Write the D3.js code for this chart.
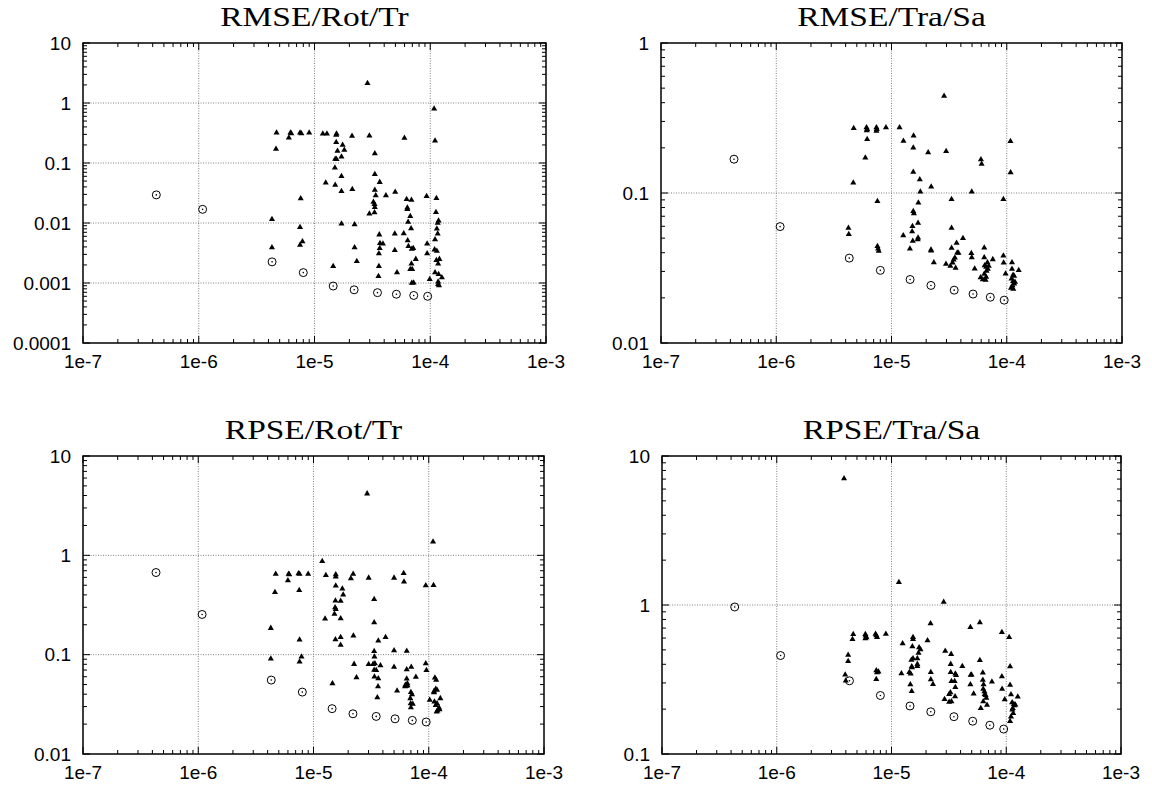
<!DOCTYPE html>
<html>
<head>
<meta charset="utf-8">
<script src="https://cdn.jsdelivr.net/npm/d3@7"></script>
<style>
  body { margin: 0; background: #fff; }
</style>
</head>
<body>
<div id="chart"></div>
<script>
// Tick labels
const xTicks = ["1e-7", "1e-6", "1e-5", "1e-4", "1e-3"];
const rmseRotTrTicks = ["0.0001", "0.001", "0.01", "0.1", "1", "10"];
const rmseTraSaTicks = ["0.01", "0.1", "1"];
const rpseRotTrTicks = ["0.01", "0.1", "1", "10"];
const rpseTraSaTicks = ["0.1", "1", "10"];

// x of the circle series (same in all four plots)
const circleX = [4.3e-7, 1.08e-6, 4.3e-6, 8.0e-6, 1.45e-5, 2.2e-5, 3.5e-5, 5.1e-5, 7.2e-5, 9.5e-5];

// circle series, y values
const rmseRotTrCircles = [0.0294, 0.0169, 0.00225, 0.00149, 0.00089, 0.00077, 0.00069, 0.00065, 0.00062, 0.0006];
const rmseTraSaCircles = [0.168, 0.0597, 0.0368, 0.0305, 0.0265, 0.0242, 0.0225, 0.0212, 0.0202, 0.0193];
const rpseRotTrCircles = [0.671, 0.254, 0.0555, 0.042, 0.0286, 0.0254, 0.0239, 0.0226, 0.0218, 0.021];
const rpseTraSaCircles = [0.97, 0.458, 0.31, 0.247, 0.21, 0.192, 0.178, 0.166, 0.156, 0.147];

// triangle series, [x, y]
const rmseRotTrTriangles = [
  [2.87e-5,2.14],[1.08e-4,0.8],[1.1e-4,0.235],[4.7e-6,0.32],[6.0e-6,0.264],[6.2e-6,0.32],[6.3e-6,0.31],
  [7.5e-6,0.32],[7.7e-6,0.31],[9.0e-6,0.32],[1.18e-5,0.308],[1.28e-5,0.308],[1.55e-5,0.308],[1.54e-5,0.293],
  [2.11e-5,0.282],[2.98e-5,0.285],[5.98e-5,0.261],[4.65e-6,0.171],[1.54e-5,0.221],[1.75e-5,0.199],
  [1.58e-5,0.158],[1.51e-5,0.117],[1.55e-5,0.115],[1.81e-5,0.164],[1.71e-5,0.127],[3.32e-5,0.144],
  [1.5e-5,0.083],[1.71e-5,0.06],[3.32e-5,0.065],[1.25e-5,0.047],[3.66e-5,0.048],[1.51e-5,0.043],
  [2.12e-5,0.0366],[1.71e-5,0.0338],[3.32e-5,0.0356],[4.14e-5,0.0286],[4.98e-5,0.033],[3.38e-5,0.0286],
  [6.25e-5,0.0249],[6.88e-5,0.0242],[9.3e-5,0.0279],[1.13e-4,0.0258],[7.6e-6,0.0255],[3.23e-5,0.0224],
  [3.3e-5,0.0205],[3.32e-5,0.0183],[2.98e-5,0.0143],[3.3e-5,0.0149],[6.34e-5,0.0169],[6.34e-5,0.018],
  [4.29e-6,0.0115],[1.12e-4,0.0151],[1.18e-4,0.0109],[6.44e-5,0.0104],[1.71e-5,0.0097],[2.22e-5,0.0094],
  [6.72e-5,0.0129],[1.16e-4,0.00998],[7.5e-6,0.0085],[6.83e-5,0.0081],[1.14e-4,0.008],[1.16e-4,0.0066],
  [4.94e-5,0.0066],[5.9e-5,0.0067],[3.63e-5,0.0064],[1.1e-4,0.0053],[7.87e-6,0.0049],[7.5e-6,0.0043],
  [3.9e-5,0.0045],[3.68e-5,0.0046],[6.38e-5,0.0051],[6.48e-5,0.0041],[9.4e-5,0.0045],[4.29e-6,0.0039],
  [2.22e-5,0.0039],[4.94e-5,0.0035],[3.66e-5,0.0038],[1.09e-4,0.0036],[1.14e-4,0.0034],[7.13e-5,0.0038],
  [3.6e-5,0.0031],[6.93e-5,0.0037],[9.4e-5,0.0031],[7.5e-5,0.0025],[1.2e-4,0.0025],[1.13e-4,0.0024],
  [2.32e-5,0.0023],[6.88e-5,0.0021],[6.98e-5,0.0017],[6.72e-5,0.0017],[1.17e-4,0.0021],[1.45e-5,0.0019],
  [3.6e-5,0.0019],[1.1e-4,0.0015],[5.16e-5,0.0015],[1.18e-4,0.0014],[3.57e-5,0.0013],[9.9e-5,0.00115],
  [1.26e-4,0.00123],[6.93e-5,0.001],[7.18e-5,0.00101],[1.17e-4,0.00105],[1.19e-4,0.00091],[1.17e-4,0.00095]
];
const rmseTraSaTriangles = [
  [2.86e-5,0.444],[4.7e-6,0.27],[6.07e-6,0.273],[6.15e-6,0.266],[6.1e-6,0.261],[7.4e-6,0.273],[7.45e-6,0.266],
  [7.4e-6,0.259],[8.95e-6,0.273],[1.175e-5,0.273],[1.555e-5,0.241],[6.15e-6,0.228],[1.27e-5,0.222],
  [1.545e-5,0.2],[2.08e-5,0.186],[2.98e-5,0.19],[1.077e-4,0.221],[5.93e-6,0.172],[5.97e-5,0.167],
  [6.05e-5,0.156],[1.545e-5,0.138],[1.76e-5,0.123],[1.08e-4,0.137],[4.66e-6,0.117],[2.21e-5,0.11],
  [1.78e-5,0.102],[4.97e-5,0.102],[3.32e-5,0.091],[9.35e-5,0.091],[7.55e-6,0.088],[1.71e-5,0.086],
  [1.545e-5,0.0755],[1.565e-5,0.073],[1.7e-5,0.063],[3.32e-5,0.0585],[1.52e-5,0.06],[1.51e-5,0.0553],
  [1.7e-5,0.0504],[1.69e-5,0.049],[1.265e-5,0.052],[4.17e-5,0.0499],[3.67e-5,0.0464],[3.72e-5,0.04],
  [3.32e-5,0.043],[6.38e-5,0.0432],[2.2e-5,0.0419],[2.21e-5,0.0412],[1.445e-5,0.0425],[1.53e-5,0.0479],
  [4.23e-6,0.0585],[4.26e-6,0.0531],[7.55e-6,0.0441],[7.65e-6,0.0425],[7.75e-6,0.041],[4.93e-5,0.0396],
  [4.97e-5,0.0371],[6.38e-5,0.0372],[6.8e-5,0.0344],[7.57e-5,0.0361],[9.35e-5,0.0382],[9.4e-5,0.0343],
  [1.11e-4,0.0344],[3.81e-5,0.0398],[3.55e-5,0.037],[3.46e-5,0.0359],[3.39e-5,0.0343],[3.6e-5,0.0316],
  [3.24e-5,0.0326],[2.33e-5,0.0344],[2.97e-5,0.0336],[5.27e-5,0.0313],[6.43e-5,0.0329],[6.63e-5,0.0321],
  [6.98e-5,0.0326],[6.85e-5,0.0311],[6.68e-5,0.0302],[6.38e-5,0.0288],[6.63e-5,0.0275],[5.93e-5,0.0273],
  [6.2e-5,0.0265],[6.55e-5,0.0263],[1.11e-4,0.0311],[9.77e-5,0.029],[1.27e-4,0.0305],[1.135e-4,0.0284],
  [1.16e-4,0.028],[1.1e-4,0.0268],[1.135e-4,0.0258],[1.12e-4,0.0242],[1.09e-4,0.0233],[1.16e-4,0.0248],
  [1.14e-4,0.0229],[1.18e-4,0.0255]
];
const rpseRotTrTriangles = [
  [2.92e-5,4.18],[1.09e-4,1.37],[1.19e-5,0.873],[4.7e-6,0.65],[6.08e-6,0.65],[6.16e-6,0.641],[6.0e-6,0.557],
  [7.41e-6,0.656],[7.57e-6,0.65],[8.99e-6,0.65],[1.28e-5,0.631],[1.56e-5,0.641],[1.56e-5,0.607],
  [2.21e-5,0.65],[2.11e-5,0.584],[3.01e-5,0.593],[5.0e-5,0.593],[6.06e-5,0.661],[6.1e-5,0.541],
  [9.42e-5,0.497],[1.1e-4,0.5],[4.63e-6,0.426],[7.52e-6,0.446],[1.56e-5,0.493],[1.78e-5,0.46],
  [1.81e-5,0.4],[1.55e-5,0.348],[1.72e-5,0.346],[3.36e-5,0.362],[1.54e-5,0.299],[1.56e-5,0.287],
  [1.52e-5,0.256],[1.26e-5,0.23],[1.72e-5,0.231],[3.36e-5,0.211],[4.26e-6,0.185],[7.57e-6,0.141],
  [1.55e-5,0.142],[1.72e-5,0.15],[1.72e-5,0.125],[2.22e-5,0.155],[3.65e-5,0.138],[4.22e-5,0.15],
  [3.36e-5,0.108],[3.38e-5,0.0953],[5.0e-5,0.11],[6.44e-5,0.109],[9.42e-5,0.0815],[9.55e-5,0.0697],
  [4.26e-6,0.0909],[7.87e-6,0.0953],[7.57e-6,0.0848],[3.01e-5,0.08],[3.29e-5,0.0803],[3.41e-5,0.0815],
  [3.81e-5,0.0778],[5.0e-5,0.075],[6.44e-5,0.071],[7.05e-5,0.075],[7.73e-5,0.0597],[2.25e-5,0.0803],
  [3.36e-5,0.0699],[3.5e-5,0.0697],[3.38e-5,0.0599],[3.65e-5,0.0577],[2.36e-5,0.059],[3.63e-5,0.0479],
  [3.58e-5,0.0371],[1.46e-5,0.0513],[5.31e-5,0.0434],[6.27e-5,0.0494],[6.4e-5,0.0485],[6.53e-5,0.0488],
  [6.23e-5,0.0479],[6.44e-5,0.0573],[6.53e-5,0.0513],[7.0e-5,0.0419],[7.16e-5,0.0398],[6.92e-5,0.0363],
  [6.97e-5,0.0323],[7.27e-5,0.0318],[7.0e-5,0.0294],[1.13e-4,0.0587],[1.16e-4,0.0555],[1.15e-4,0.045],
  [1.11e-4,0.0427],[1.18e-4,0.044],[1.11e-4,0.0416],[1.26e-4,0.0363],[1.02e-4,0.0349],[1.12e-4,0.0336],
  [1.18e-4,0.0323],[1.15e-4,0.031],[1.23e-4,0.0292],[1.19e-4,0.0273],[1.17e-4,0.0266],[1.24e-4,0.0281]
];
const rpseTraSaTriangles = [
  [3.86e-6,7.05],[1.16e-5,1.42],[2.85e-5,1.047],[2.19e-5,0.75],[5.89e-5,0.762],[4.87e-5,0.708],[9.16e-5,0.656],
  [1.06e-4,0.607],[4.64e-6,0.637],[4.57e-6,0.588],[5.92e-6,0.637],[5.96e-6,0.621],[6.05e-6,0.605],
  [5.92e-6,0.596],[7.26e-6,0.639],[7.37e-6,0.624],[7.48e-6,0.607],[8.93e-6,0.639],[1.25e-5,0.551],
  [1.54e-5,0.607],[1.54e-5,0.59],[2.06e-5,0.577],[1.52e-5,0.526],[1.74e-5,0.519],[1.79e-5,0.502],
  [1.72e-5,0.477],[1.54e-5,0.437],[1.49e-5,0.428],[1.5e-5,0.387],[1.51e-5,0.381],[1.68e-5,0.437],
  [1.68e-5,0.401],[1.68e-5,0.388],[1.22e-5,0.347],[1.43e-5,0.354],[1.47e-5,0.345],[4.19e-6,0.461],
  [4.19e-6,0.42],[2.94e-5,0.492],[3.31e-5,0.468],[5.89e-5,0.426],[1.08e-4,0.387],[4.14e-5,0.388],
  [3.28e-5,0.401],[3.28e-5,0.354],[4.98e-5,0.34],[6.25e-5,0.351],[3.6e-5,0.345],[3.65e-5,0.338],
  [3.33e-5,0.308],[3.55e-5,0.308],[3.6e-5,0.281],[3.26e-5,0.259],[3.18e-5,0.252],[3.33e-5,0.225],
  [3.58e-5,0.243],[2.9e-5,0.233],[3.18e-5,0.223],[4.9e-5,0.339],[3.95e-6,0.34],[3.99e-6,0.31],
  [7.37e-6,0.363],[7.48e-6,0.353],[7.7e-6,0.356],[7.37e-6,0.318],[1.46e-5,0.293],[1.5e-5,0.264],
  [2.2e-5,0.354],[2.2e-5,0.316],[2.3e-5,0.294],[4.87e-5,0.293],[5.2e-5,0.254],[6.25e-5,0.314],
  [6.34e-5,0.293],[6.3e-5,0.273],[6.45e-5,0.263],[6.5e-5,0.252],[6.6e-5,0.248],[6.7e-5,0.238],
  [7.5e-5,0.305],[9.16e-5,0.331],[9.2e-5,0.273],[9.7e-5,0.232],[6.8e-5,0.213],[6.3e-5,0.225],
  [6.0e-5,0.203],[1.08e-4,0.29],[1.1e-4,0.251],[1.26e-4,0.242],[1.165e-4,0.216],[1.125e-4,0.222],
  [1.14e-4,0.203],[1.13e-4,0.198],[1.15e-4,0.188],[1.1e-4,0.178],[1.08e-4,0.166],[1.18e-4,0.212],
  [1.2e-4,0.214]
];

// Panel layout
const panels = [
  {title: "RMSE/Rot/Tr", yTicks: rmseRotTrTicks, circles: rmseRotTrCircles, tris: rmseRotTrTriangles,
   left: 83, right: 546, top: 43, bottom: 343},
  {title: "RMSE/Tra/Sa", yTicks: rmseTraSaTicks, circles: rmseTraSaCircles, tris: rmseTraSaTriangles,
   left: 661, right: 1122, top: 43, bottom: 343},
  {title: "RPSE/Rot/Tr", yTicks: rpseRotTrTicks, circles: rpseRotTrCircles, tris: rpseRotTrTriangles,
   left: 83, right: 544, top: 456, bottom: 754},
  {title: "RPSE/Tra/Sa", yTicks: rpseTraSaTicks, circles: rpseTraSaCircles, tris: rpseTraSaTriangles,
   left: 662, right: 1121, top: 456, bottom: 754}
];

const svg = d3.select("#chart")
  .append("svg")
    .attr("width", 1152)
    .attr("height", 789)
    .style("background", "#fff");

const minorOf = majors => majors.slice(0, -1).flatMap(m => d3.range(2, 10).map(k => k * m));
const sans = "'Liberation Sans', Arial, Helvetica, sans-serif";

panels.forEach(p => {
  const g = svg.append("g");
  const xMajor = xTicks.map(Number);
  const yMajor = p.yTicks.map(Number);

  const x = d3.scaleLog()
      .domain([xMajor[0], xMajor[xMajor.length - 1]])
      .range([p.left, p.right]);
  const y = d3.scaleLog()
      .domain([yMajor[0], yMajor[yMajor.length - 1]])
      .range([p.bottom, p.top]);

  // dotted grid at inner decades
  g.append("g").selectAll("line")
    .data(xMajor.slice(1, -1))
    .join("line")
      .attr("x1", d => x(d)).attr("x2", d => x(d))
      .attr("y1", p.top).attr("y2", p.bottom);
  g.append("g").selectAll("line")
    .data(yMajor.slice(1, -1))
    .join("line")
      .attr("x1", p.left).attr("x2", p.right)
      .attr("y1", d => y(d)).attr("y2", d => y(d));
  g.selectAll("line")
      .attr("stroke", "#808080")
      .attr("stroke-width", 1)
      .attr("stroke-dasharray", "1,1.5");

  // ticks on all four sides
  const xt = xMajor.map(v => ({v, len: 7})).concat(minorOf(xMajor).map(v => ({v, len: 4})));
  const yt = yMajor.map(v => ({v, len: 7})).concat(minorOf(yMajor).map(v => ({v, len: 4})));
  const ticks = g.append("g").attr("stroke", "#000").attr("stroke-width", 1);
  ticks.selectAll(".xb").data(xt).join("line")
      .attr("x1", d => x(d.v)).attr("x2", d => x(d.v))
      .attr("y1", p.bottom).attr("y2", d => p.bottom - d.len);
  ticks.selectAll(".xt").data(xt).join("line")
      .attr("x1", d => x(d.v)).attr("x2", d => x(d.v))
      .attr("y1", p.top).attr("y2", d => p.top + d.len);
  ticks.selectAll(".yl").data(yt).join("line")
      .attr("y1", d => y(d.v)).attr("y2", d => y(d.v))
      .attr("x1", p.left).attr("x2", d => p.left + d.len);
  ticks.selectAll(".yr").data(yt).join("line")
      .attr("y1", d => y(d.v)).attr("y2", d => y(d.v))
      .attr("x1", p.right).attr("x2", d => p.right - d.len);

  // frame
  g.append("rect")
      .attr("x", p.left).attr("y", p.top)
      .attr("width", p.right - p.left).attr("height", p.bottom - p.top)
      .attr("fill", "none")
      .attr("stroke", "#000")
      .attr("stroke-width", 1.5);

  // tick labels
  g.append("g").selectAll("text")
    .data(xTicks)
    .join("text")
      .attr("x", d => x(+d))
      .attr("y", p.bottom + 25)
      .attr("text-anchor", "middle")
      .attr("font-family", sans)
      .attr("font-size", 19)
      .text(d => d);
  g.append("g").selectAll("text")
    .data(p.yTicks)
    .join("text")
      .attr("x", p.left - 12)
      .attr("y", d => y(+d))
      .attr("dy", "0.35em")
      .attr("text-anchor", "end")
      .attr("font-family", sans)
      .attr("font-size", 19)
      .text(d => d);

  // title
  g.append("text")
      .attr("transform", `translate(${(p.left + p.right) / 2},${p.top - 17}) scale(1.24,1)`)
      .attr("text-anchor", "middle")
      .attr("font-family", "'Liberation Serif', 'Times New Roman', serif")
      .attr("font-size", 27)
      .text(p.title);

  // triangles
  g.append("g").selectAll("path")
    .data(p.tris)
    .join("path")
      .attr("transform", d => `translate(${x(d[0])},${y(d[1])})`)
      .attr("d", d3.symbol(d3.symbolTriangle, 16))
      .attr("fill", "#000");

  // circles with centre dot
  const cdata = circleX.map((cx, i) => [cx, p.circles[i]]);
  const cg = g.append("g").selectAll("g")
    .data(cdata)
    .join("g")
      .attr("transform", d => `translate(${x(d[0])},${y(d[1])})`);
  cg.append("circle")
      .attr("r", 4)
      .attr("fill", "none")
      .attr("stroke", "#000")
      .attr("stroke-width", 1);
  cg.append("circle")
      .attr("r", 0.8)
      .attr("fill", "#000");
});
</script>
</body>
</html>
